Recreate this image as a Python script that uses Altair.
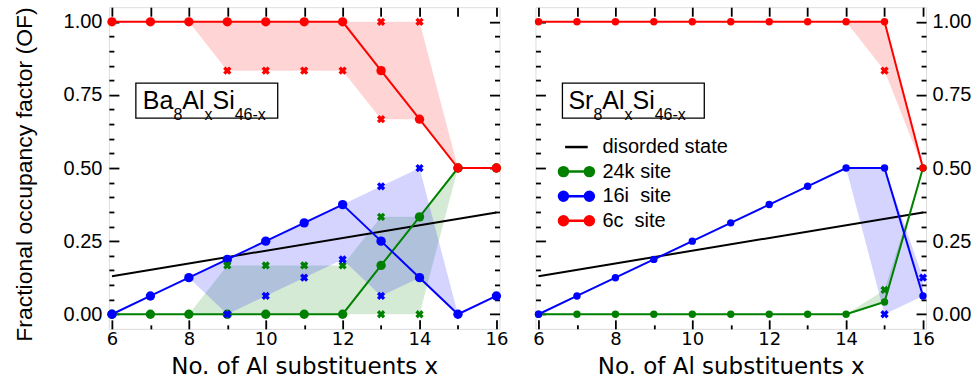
import altair as alt
import pandas as pd

# ---------------- data ----------------
X_SITES = [6, 7, 8, 9, 10, 11, 12, 13, 14, 15, 16]
SITE_NAMES = ["24k", "16i", "6c"]
SITE_COLORS = ["#008000", "#0000ff", "#ff0000"]

# Ba8AlxSi46-x (left panel)
BA_24K = [0, 0, 0, 0, 0, 0, 0, 0.167, 0.333, 0.5, 0.5]
BA_16I = [0, 0.0625, 0.125, 0.1875, 0.25, 0.3125, 0.375, 0.25, 0.125, 0, 0.0625]
BA_6C = [1, 1, 1, 1, 1, 1, 1, 0.833, 0.667, 0.5, 0.5]

BA_CROSS_X = [9, 10, 11, 12, 13, 13, 14]
BA_CROSS_24K = [0.167, 0.167, 0.167, 0.167, 0.333, 0, 0]
BA_CROSS_16I = [0, 0.0625, 0.125, 0.1875, 0.4375, 0.0625, 0.5]
BA_CROSS_6C = [0.833, 0.833, 0.833, 0.833, 1, 0.667, 1]

BA_BAND_X = [8, 9, 10, 11, 12, 13, 14, 15]
BA_BAND_24K_LO = [0, 0, 0, 0, 0, 0, 0, 0.5]
BA_BAND_24K_HI = [0, 0.167, 0.167, 0.167, 0.167, 0.333, 0.333, 0.5]
BA_BAND_16I_LO = [0.125, 0, 0.0625, 0.125, 0.1875, 0.0625, 0.125, 0]
BA_BAND_16I_HI = [0.125, 0.1875, 0.25, 0.3125, 0.375, 0.4375, 0.5, 0]
BA_BAND_6C_LO = [1, 0.833, 0.833, 0.833, 0.833, 0.667, 0.667, 0.5]
BA_BAND_6C_HI = [1, 1, 1, 1, 1, 1, 1, 0.5]

# Sr8AlxSi46-x (right panel)
SR_24K = [0, 0, 0, 0, 0, 0, 0, 0, 0, 0.042, 0.5]
SR_16I = [0, 0.0625, 0.125, 0.1875, 0.25, 0.3125, 0.375, 0.4375, 0.5, 0.5, 0.0625]
SR_6C = [1, 1, 1, 1, 1, 1, 1, 1, 1, 1, 0.5]

SR_CROSS_24K_X, SR_CROSS_24K = [15], [0.083]
SR_CROSS_16I_X, SR_CROSS_16I = [15, 16], [0, 0.125]
SR_CROSS_6C_X, SR_CROSS_6C = [15], [0.833]

SR_BAND_X = [14, 15, 16]
SR_BAND_24K_LO = [0, 0.042, 0.5]
SR_BAND_24K_HI = [0, 0.083, 0.5]
SR_BAND_16I_LO = [0.5, 0, 0.0625]
SR_BAND_16I_HI = [0.5, 0.5, 0.125]
SR_BAND_6C_LO = [1, 0.833, 0.5]
SR_BAND_6C_HI = [1, 1, 0.5]

# disordered state (straight line)
DIS_X = [6, 16]
DIS_Y = [0.130, 0.348]

X_LABELS = [6, 8, 10, 12, 14, 16]
Y_LABELS = [0, 0.25, 0.5, 0.75, 1.0]
X_MAJOR = [6, 8, 10, 12, 14, 16]
X_MINOR = [7, 9, 11, 13, 15]
Y_MAJOR = [0, 0.25, 0.5, 0.75, 1.0]
Y_MINOR = [0.05, 0.1, 0.15, 0.2, 0.3, 0.35, 0.4, 0.45, 0.55, 0.6, 0.65, 0.7,
           0.8, 0.85, 0.9, 0.95]

BA_FORMULA = [("Ba", False), ("8", True), ("Al", False), ("x", True), ("Si", False), ("46-x", True)]
SR_FORMULA = [("Sr", False), ("8", True), ("Al", False), ("x", True), ("Si", False), ("46-x", True)]

LEGEND_LABELS = ["disorded state", "24k site", "16i\u00a0\u00a0site", "\u00a06c\u00a0\u00a0site"]
LEGEND_COLORS = ["#000000", "#008000", "#0000ff", "#ff0000"]

# ---------------- helpers ----------------
W, H = 391, 322
FONT = "Liberation Sans"
xs = alt.Scale(domain=[5.92, 16.08], nice=False, zero=False)
ys = alt.Scale(domain=[-0.05, 1.05], nice=False, zero=False)
color = alt.Color("site:N", scale=alt.Scale(domain=SITE_NAMES, range=SITE_COLORS), legend=None)


def lines_df(series):
    rows = []
    for site, vals in zip(SITE_NAMES, series):
        for x, v in zip(X_SITES, vals):
            rows.append({"x": x, "y": v, "site": site})
    return pd.DataFrame(rows)


def cross_df(items):
    rows = []
    for site, (xv, yv) in zip(SITE_NAMES, items):
        for x, v in zip(xv, yv):
            rows.append({"x": x, "y": v, "site": site})
    return pd.DataFrame(rows)


def band_df(xv, items):
    rows = []
    for site, (lo, hi) in zip(SITE_NAMES, items):
        for x, a, b in zip(xv, lo, hi):
            rows.append({"x": x, "lo": a, "hi": b, "site": site})
    return pd.DataFrame(rows)


tick_common = dict(labels=False, domain=False, grid=False, title="",
                   tickColor="black", tickWidth=1.8)


def y_tick_axis(orient, vals, size):
    return alt.Axis(orient=orient, offset=-W, values=vals, tickSize=size, **tick_common)


def x_tick_axis(orient, vals, size):
    return alt.Axis(orient=orient, offset=-H, values=vals, tickSize=size, **tick_common)


CHAR_W = {"B": 0.667, "a": 0.556, "8": 0.556, "A": 0.667, "l": 0.222, "x": 0.5,
          "S": 0.667, "i": 0.222, "4": 0.556, "6": 0.556, "-": 0.333, "r": 0.333}


def formula_layers(segments, x0, base_y):
    layers = []
    box = alt.Chart(pd.DataFrame({"k": [0]})).mark_rect(
        fill="white", stroke="black", strokeWidth=1.3
    ).encode(x=alt.value(27), x2=alt.value(169), y=alt.value(76), y2=alt.value(111))
    layers.append(box)
    x = x0
    for txt, sub in segments:
        fs = 16 if sub else 25
        layers.append(
            alt.Chart(pd.DataFrame({"t": [txt]})).mark_text(
                align="left", baseline="alphabetic", font=FONT, fontSize=fs, color="black"
            ).encode(x=alt.value(x), y=alt.value(base_y + (10.5 if sub else 0)), text="t:N")
        )
        x += sum(CHAR_W.get(c, 0.55) for c in txt) * fs
    return layers


def panel(lines, crosses, bands, circle_size, left, formula):
    if left:
        y_lab = alt.Axis(orient="left", values=Y_LABELS, format=".2f", ticks=False, domain=False,
                         grid=False, labelFont=FONT, labelFontSize=20, labelColor="black",
                         labelPadding=7, title="Fractional occupancy factor (OF)",
                         titleFont=FONT, titleFontSize=23, titleFontWeight="normal",
                         titleColor="black", titlePadding=27, titleY=H / 2 + 6)
    else:
        y_lab = alt.Axis(orient="right", values=Y_LABELS, format=".2f", ticks=False, domain=False,
                         grid=False, labelFont=FONT, labelFontSize=20, labelColor="black",
                         labelPadding=6, title="")
    x_lab = alt.Axis(orient="bottom", values=X_LABELS, ticks=False, domain=False, grid=False,
                     labelFont="DejaVu Sans", labelFontSize=18, labelColor="black",
                     labelPadding=2, labelFlush=False, title="No. of Al substituents x",
                     titleFont="DejaVu Sans", titleFontSize=23, titleFontWeight="normal",
                     titleColor="black", titlePadding=7)

    areas = alt.Chart(bands).mark_area(opacity=0.17).encode(
        x=alt.X("x:Q", scale=xs, axis=x_lab),
        y=alt.Y("lo:Q", scale=ys, axis=y_lab),
        y2="hi:Q",
        color=color,
    )
    dis = alt.Chart(pd.DataFrame({"x": DIS_X, "y": DIS_Y})).mark_line(
        color="black", strokeWidth=2
    ).encode(
        x=alt.X("x:Q", scale=xs, axis=x_tick_axis("top", X_MAJOR, 9)),
        y=alt.Y("y:Q", scale=ys, axis=y_tick_axis("right", Y_MAJOR, 10)),
    )
    ln = alt.Chart(lines).mark_line(strokeWidth=2).encode(
        x=alt.X("x:Q", scale=xs, axis=x_tick_axis("top", X_MINOR, 4)),
        y=alt.Y("y:Q", scale=ys, axis=y_tick_axis("right", Y_MINOR, 5)),
        color=color,
    )
    pts = alt.Chart(lines).mark_circle(size=circle_size, opacity=1).encode(
        x=alt.X("x:Q", scale=xs, axis=x_tick_axis("bottom", X_MAJOR, 9)),
        y=alt.Y("y:Q", scale=ys, axis=y_tick_axis("left", Y_MAJOR, 10)),
        color=color,
    )
    cr = alt.Chart(crosses).mark_point(shape="cross", filled=True, size=70, angle=45, opacity=1).encode(
        x=alt.X("x:Q", scale=xs, axis=x_tick_axis("bottom", X_MINOR, 9)),
        y=alt.Y("y:Q", scale=ys, axis=y_tick_axis("left", Y_MINOR, 5)),
        color=color,
    )
    layers = [areas, dis, ln, pts, cr]
    layers += formula_layers(formula, 34 if left else 33, 102)
    if not left:
        s = 1.79
        r = 0.62
        site_path = (f"M{-s},0L{s},0"
                     f"M{-s - r},0A{r},{r},0,1,0,{-s + r},0A{r},{r},0,1,0,{-s - r},0Z"
                     f"M{s - r},0A{r},{r},0,1,0,{s + r},0A{r},{r},0,1,0,{s - r},0Z")
        line_path = "M-1.56,0L1.56,0"
        shapes = [line_path, site_path, site_path, site_path]
        leg = alt.Legend(orient="none", legendX=31, legendY=130, title=None,
                         symbolSize=210, symbolStrokeWidth=2.5, symbolOpacity=1,
                         labelFont=FONT, labelFontSize=20, labelColor="black",
                         labelOffset=16, rowPadding=4.6, padding=0, labelLimit=300)
        legdf = pd.DataFrame({"series": LEGEND_LABELS})
        lg = alt.Chart(legdf).transform_filter("false").mark_point(filled=True, opacity=1).encode(
            fill=alt.Fill("series:N", scale=alt.Scale(domain=LEGEND_LABELS, range=LEGEND_COLORS), legend=leg),
            stroke=alt.Stroke("series:N", scale=alt.Scale(domain=LEGEND_LABELS, range=LEGEND_COLORS), legend=leg),
            shape=alt.Shape("series:N", scale=alt.Scale(domain=LEGEND_LABELS, range=shapes), legend=leg),
        )
        layers.append(lg)
    return alt.layer(*layers).resolve_axis(x="independent", y="independent").properties(width=W, height=H)


left_panel = panel(
    lines_df([BA_24K, BA_16I, BA_6C]),
    cross_df([(BA_CROSS_X, BA_CROSS_24K), (BA_CROSS_X, BA_CROSS_16I), (BA_CROSS_X, BA_CROSS_6C)]),
    band_df(BA_BAND_X, [(BA_BAND_24K_LO, BA_BAND_24K_HI), (BA_BAND_16I_LO, BA_BAND_16I_HI),
                        (BA_BAND_6C_LO, BA_BAND_6C_HI)]),
    88, True, BA_FORMULA,
)
right_panel = panel(
    lines_df([SR_24K, SR_16I, SR_6C]),
    cross_df([(SR_CROSS_24K_X, SR_CROSS_24K), (SR_CROSS_16I_X, SR_CROSS_16I), (SR_CROSS_6C_X, SR_CROSS_6C)]),
    band_df(SR_BAND_X, [(SR_BAND_24K_LO, SR_BAND_24K_HI), (SR_BAND_16I_LO, SR_BAND_16I_HI),
                        (SR_BAND_6C_LO, SR_BAND_6C_HI)]),
    55, False, SR_FORMULA,
)

chart = alt.hconcat(left_panel, right_panel, spacing=23).resolve_scale(
    fill="independent", stroke="independent", shape="independent"
).resolve_legend(
    fill="independent", stroke="independent", shape="independent"
).properties(
    padding={"left": 12, "top": 5, "right": 5, "bottom": 5},
    background="white",
).configure_view(
    stroke="black", strokeWidth=2
).configure(font=FONT)

chart.save("out.html", embed_options={"renderer": "svg", "actions": False})
